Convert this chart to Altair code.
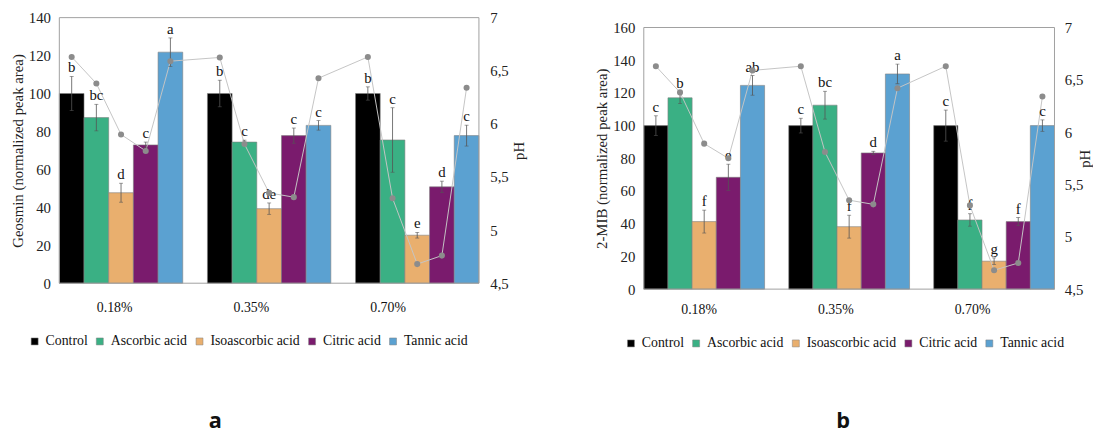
import altair as alt
import pandas as pd

concs = ["0.18%", "0.35%", "0.70%"]
treatments = ["Control", "Ascorbic acid", "Isoascorbic acid", "Citric acid", "Tannic acid"]
colors = ["#000000", "#3ab084", "#e9af6e", "#7a1b6d", "#5ba1d1"]

geosmin_mean = [100, 87.3, 47.7, 72.9, 121.8, 100, 74.4, 39.3, 77.8, 83.2, 100, 75.5, 25.3, 50.8, 77.8]
geosmin_err = [9, 7, 5, 1.5, 7.5, 7, 1, 3, 4, 2.5, 3.5, 17, 1.5, 3, 5.5]
geosmin_letters = ["b", "bc", "d", "c", "a", "b", "c", "de", "c", "c", "b", "c", "e", "d", "c"]

mib_mean = [100, 117, 41.3, 68.4, 124.6, 100, 112.5, 38.2, 83.3, 131.6, 100, 42.3, 17.1, 41.3, 100]
mib_err = [6, 3.5, 7, 8, 6, 4.5, 8.5, 7, 1, 6, 9.5, 3.8, 2, 2.5, 3.5]
mib_letters = ["c", "b", "f", "e", "ab", "c", "bc", "f", "d", "a", "c", "f", "g", "f", "c"]

ph_a = [6.63, 6.38, 5.90, 5.745, 6.59, 6.625, 5.81, 5.35, 5.31, 6.43, 6.63, 5.30, 4.68, 4.76, 6.34]
ph_b = [6.63, 6.38, 5.89, 5.75, 6.59, 6.63, 5.81, 5.35, 5.31, 6.42, 6.63, 5.30, 4.68, 4.75, 6.34]

panel_tags = ["a", "b"]

SERIF = "Liberation Serif"
VIEW_H = 275

slot_domain = []
for i, c in enumerate(concs):
    for t in treatments:
        slot_domain.append(f"{c}|{t}")
    if i < len(concs) - 1:
        slot_domain.append(f"gap{i}")


def make_df(means, errs, letters, ph):
    rows = []
    k = 0
    for c in concs:
        for t in treatments:
            rows.append({"conc": c, "treat": t, "slot": f"{c}|{t}", "mean": means[k],
                         "err": errs[k], "letter": letters[k], "ph": ph[k], "idx": k})
            k += 1
    return pd.DataFrame(rows)


def panel(means, errs, letters, ph, ymax, ytitle, W, top, bottom, lx, ly, cat_y, tag, tag_x, tag_y,
          r_lpad, r_tpad):
    df = make_df(means, errs, letters, ph)
    df["lo"] = df["mean"] - df["err"]
    df["hi"] = df["mean"] + df["err"]
    base = alt.Chart(df)
    xs = alt.X("slot:N", scale=alt.Scale(domain=slot_domain, paddingInner=0, paddingOuter=0), axis=None)
    yscale = alt.Scale(domain=[0, ymax], nice=False, range=[bottom, top])
    pscale = alt.Scale(domain=[4.5, 7], nice=False, range=[bottom, top])

    bars = base.mark_bar(stroke="#808080", strokeWidth=0.6).encode(
        x=xs,
        y=alt.Y("mean:Q", scale=yscale,
                axis=alt.Axis(orient="left", title=ytitle, values=list(range(0, ymax + 1, 20)),
                              domain=False, ticks=False, grid=False, labelFont=SERIF, labelFontSize=15,
                              labelColor="#222", labelPadding=9, titleFont=SERIF, titleFontSize=15,
                              titleFontWeight="normal", titleColor="#222", titlePadding=3)),
        color=alt.Color("treat:N", scale=alt.Scale(domain=treatments, range=colors),
                        legend=alt.Legend(title=None, orient="none", legendX=lx, legendY=ly,
                                          direction="horizontal", columns=5, symbolType="square",
                                          symbolSize=50, symbolStrokeWidth=0.5, labelFont=SERIF,
                                          labelFontSize=14, labelColor="#111", columnPadding=5,
                                          labelOffset=4, padding=0)),
    )
    line = base.mark_line(color="#c4c4c4", strokeWidth=1).encode(
        x=xs,
        y=alt.Y("ph:Q", scale=pscale,
                axis=alt.Axis(orient="right", title="pH", values=[4.5, 5, 5.5, 6, 6.5, 7], format="~g",
                              labelExpr="replace(datum.label, '.', ',')", domain=False, ticks=False,
                              grid=False, labelFont=SERIF, labelFontSize=15, labelColor="#222",
                              labelPadding=r_lpad, titleFont=SERIF, titleFontSize=15, titleFontWeight="normal",
                              titleColor="#222", titleAngle=270, titleBaseline="top", titlePadding=r_tpad)),
        order="idx:Q")
    err_rule = base.mark_rule(color="#555", strokeWidth=0.8).encode(
        x=xs, y=alt.Y("lo:Q", scale=yscale, axis=None), y2="hi:Q")
    cap_hi = base.mark_tick(color="#555", orient="horizontal", size=4, thickness=0.8).encode(
        x=xs, y=alt.Y("hi:Q", scale=yscale, axis=None))
    cap_lo = base.mark_tick(color="#555", orient="horizontal", size=4, thickness=0.8).encode(
        x=xs, y=alt.Y("lo:Q", scale=yscale, axis=None))
    lett = base.mark_text(font=SERIF, fontSize=15, baseline="bottom", dy=-1, color="#111").encode(
        x=xs, y=alt.Y("hi:Q", scale=yscale, axis=None), text="letter:N")
    pts = base.mark_circle(color="#8c8c8c", size=38, opacity=1).encode(
        x=xs, y=alt.Y("ph:Q", scale=pscale, axis=None))

    tag_df = pd.DataFrame({"t": [tag]})
    frame = alt.Chart(tag_df).mark_rect(fillOpacity=0, stroke="#a0a0a0", strokeWidth=1).encode(
        x=alt.value(0), x2=alt.value(W), y=alt.value(top), y2=alt.value(bottom))

    cat_df = pd.DataFrame({"conc": concs})
    cat = alt.Chart(cat_df).mark_text(font=SERIF, fontSize=14, color="#111", baseline="middle").encode(
        x=alt.X("conc:N", scale=alt.Scale(type="point", domain=concs, range=[56, 333], padding=0), axis=None),
        y=alt.value(cat_y), text="conc:N")
    tg = alt.Chart(tag_df).mark_text(font="Open Sans", fontSize=22, fontWeight="bold", color="#111",
                                     baseline="alphabetic").encode(
        x=alt.value(tag_x), y=alt.value(tag_y), text="t:N")
    layers = [bars, line, err_rule, cap_hi, cap_lo, lett, pts, frame, cat, tg]
    return alt.layer(*layers).resolve_scale(y="independent", x="independent").properties(
        width=W, height=VIEW_H)


pa = panel(geosmin_mean, geosmin_err, geosmin_letters, ph_a, 140, "Geosmin (normalized peak area)",
           425, 0, 269, -32, 321, 294, panel_tags[0], 158, 416, 11, 3)
pb = panel(mib_mean, mib_err, mib_letters, ph_b, 160, "2-MIB (normalized peak area)",
           416, 10, 275, -20, 323, 296, panel_tags[1], 202, 416, 10, -5)

chart = alt.hconcat(pa, pb, spacing=69).resolve_scale(color="independent").resolve_legend(
    color="independent").configure_view(stroke="transparent", strokeWidth=0).properties(
    padding={"left": 2, "top": 0, "right": 0, "bottom": 0}, background="white")

chart.save("out.html", embed_options={"renderer": "svg", "actions": False})
